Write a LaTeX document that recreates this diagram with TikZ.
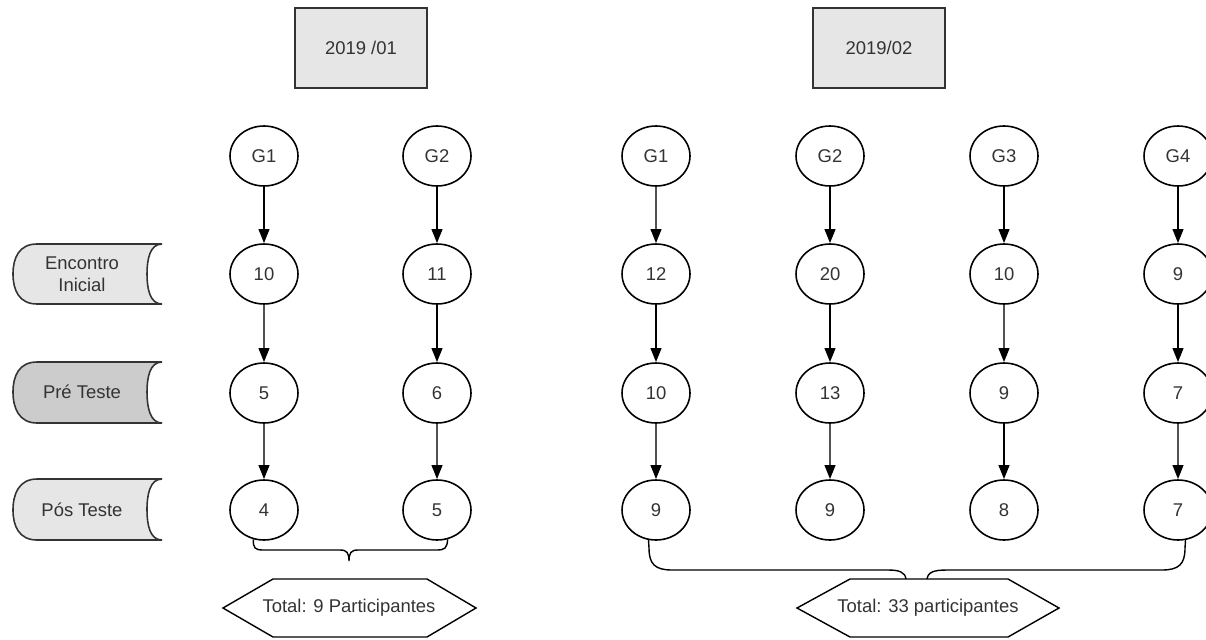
\documentclass[tikz,border=0pt]{standalone}
\usepackage{fontspec}
\setmainfont{Liberation Sans}
\usetikzlibrary{arrows.meta,shapes.geometric}
\definecolor{boxgray}{HTML}{E6E6E6}
\definecolor{pregray}{HTML}{CCCCCC}
\definecolor{txtgray}{HTML}{333333}
\begin{document}
\begin{tikzpicture}[x=0.02cm,y=-0.02cm,font=\fontsize{10.5}{12.5}\selectfont,text=txtgray,
  grp/.style={draw,ellipse,line width=0.9pt,minimum width=1.36cm,minimum height=1.2cm,inner sep=0pt},
  semestre/.style={draw=black!80,fill=boxgray,line width=1.2pt,minimum width=2.64cm,minimum height=1.6cm},
  flecha/.style={line width=1.3pt,-{Triangle[length=8pt,width=6pt,color=black]}},
  flechag/.style={flecha,draw=black!68},
  fase/.style={draw=black!80,line width=0.9pt},
  liga/.style={line width=0.8pt}]
\useasboundingbox (0,0) rectangle (1206,639);
\node[semestre] (ano1) at (361,48) {2019 /01};
\node[semestre] (ano2) at (879,48) {2019/02};
\filldraw[fase,fill=boxgray] (37,244) -- (162,244) .. controls (150,244) and (147,259) .. (147,274) .. controls (147,289) and (150,304) .. (162,304) -- (37,304) .. controls (19,304) and (13,290) .. (13,274) .. controls (13,258) and (19,244) .. (37,244) -- cycle;
\filldraw[fase,fill=pregray] (37,362) -- (162,362) .. controls (150,362) and (147,377) .. (147,392) .. controls (147,407) and (150,423) .. (162,423) -- (37,423) .. controls (19,423) and (13,408) .. (13,392) .. controls (13,376) and (19,362) .. (37,362) -- cycle;
\filldraw[fase,fill=boxgray] (37,479) -- (162,479) .. controls (150,479) and (147,494) .. (147,510) .. controls (147,525) and (150,540) .. (162,540) -- (37,540) .. controls (19,540) and (13,526) .. (13,510) .. controls (13,494) and (19,479) .. (37,479) -- cycle;
\node[align=center] (encontro) at (82,274) {Encontro\\Inicial};
\node (pre) at (82,392) {Pré Teste};
\node (pos) at (82,510) {Pós Teste};
\node[grp] (uG1) at (264,156) {G1};
\node[grp] (uE1) at (264,274) {10};
\node[grp] (uP1) at (264,393) {5};
\node[grp] (uQ1) at (264,510) {4};
\node[grp] (uG2) at (437,156) {G2};
\node[grp] (uE2) at (437,274) {11};
\node[grp] (uP2) at (437,393) {6};
\node[grp] (uQ2) at (437,510) {5};
\node[grp] (dG1) at (656,156) {G1};
\node[grp] (dE1) at (656,274) {12};
\node[grp] (dP1) at (656,393) {10};
\node[grp] (dQ1) at (656,510) {9};
\node[grp] (dG2) at (830,156) {G2};
\node[grp] (dE2) at (830,274) {20};
\node[grp] (dP2) at (830,393) {13};
\node[grp] (dQ2) at (830,510) {9};
\node[grp] (dG3) at (1004,156) {G3};
\node[grp] (dE3) at (1004,274) {10};
\node[grp] (dP3) at (1004,393) {9};
\node[grp] (dQ3) at (1004,510) {8};
\node[grp] (dG4) at (1178,156) {G4};
\node[grp] (dE4) at (1178,274) {9};
\node[grp] (dP4) at (1178,393) {7};
\node[grp] (dQ4) at (1178,510) {7};
\draw[flecha] (uG1) -- (uE1);
\draw[flechag] (uE1) -- (uP1);
\draw[flechag] (uP1) -- (uQ1);
\draw[flecha] (uG2) -- (uE2);
\draw[flecha] (uE2) -- (uP2);
\draw[flechag] (uP2) -- (uQ2);
\draw[flechag] (dG1) -- (dE1);
\draw[flecha] (dE1) -- (dP1);
\draw[flechag] (dP1) -- (dQ1);
\draw[flecha] (dG2) -- (dE2);
\draw[flecha] (dE2) -- (dP2);
\draw[flechag] (dP2) -- (dQ2);
\draw[flecha] (dG3) -- (dE3);
\draw[flechag] (dE3) -- (dP3);
\draw[flecha] (dP3) -- (dQ3);
\draw[flecha] (dG4) -- (dE4);
\draw[flecha] (dE4) -- (dP4);
\draw[flechag] (dP4) -- (dQ4);
\draw[liga] (223,608) -- (273,579) -- (427,579) -- (476,608) -- (427,637) -- (273,637) -- cycle;
\draw[liga] (797,608) -- (850,579) -- (1008,579) -- (1059,608) -- (1008,637) -- (850,637) -- cycle;
\node (total1) at (349,608) {Total: 9 Participantes};
\node (total2) at (928,608) {Total: 33 participantes};
\coordinate (total2l) at (906,579);
\coordinate (total2r) at (927,579);
\draw[liga] (uQ1.250) .. controls (253,548) and (255,550) .. (263,550) -- (340,550) .. controls (347,550) and (349,553) .. (349,561) .. controls (349,553) and (351,550) .. (358,550) -- (437,550) .. controls (445,550) and (447,548) .. (uQ2.290);
\draw[liga] (dQ1.256) -- (649,548) .. controls (649,564) and (655,570) .. (672,570) -- (888,570) .. controls (899,570) and (905,572) .. (total2l);
\draw[liga] (dQ4.284) -- (1185,548) .. controls (1185,564) and (1179,570) .. (1162,570) -- (947,570) .. controls (934,570) and (928,572) .. (total2r);
\end{tikzpicture}
\end{document}
